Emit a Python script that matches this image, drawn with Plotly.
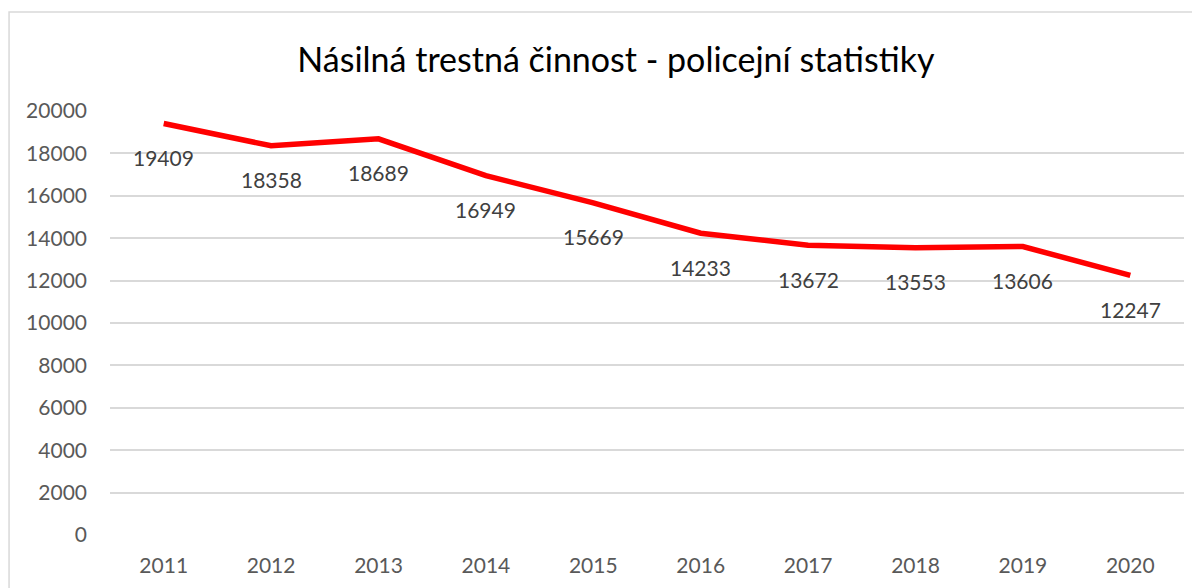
import plotly.graph_objects as go

years = ["2011", "2012", "2013", "2014", "2015", "2016", "2017", "2018", "2019", "2020"]
values = [19409, 18358, 18689, 16949, 15669, 14233, 13672, 13553, 13606, 12247]
y_ticks = [0, 2000, 4000, 6000, 8000, 10000, 12000, 14000, 16000, 18000, 20000]
title_text = "Násilná trestná činnost - policejní statistiky"

FONT = "Lato"

fig = go.Figure()
fig.add_trace(go.Scatter(
    x=years, y=values, mode="lines",
    line=dict(color="#FF0000", width=5.5),
    hoverinfo="x+y", showlegend=False,
))

for i, v in enumerate(values):
    fig.add_annotation(x=i, y=v, text=str(v), showarrow=False, yshift=-34,
                       font=dict(family=FONT, size=21, color="#404040"))

fig.update_layout(
    width=1192, height=580,
    paper_bgcolor="white", plot_bgcolor="white",
    margin=dict(l=102, r=16, t=103, b=53),
    title=dict(text=title_text, x=0.51, xanchor="center", y=0.91, yanchor="middle",
               font=dict(family=FONT, size=34, color="#000000")),
    xaxis=dict(type="category", range=[-0.5, 9.5], showgrid=False, zeroline=False,
               showline=False, ticks="", tickfont=dict(family=FONT, size=21, color="#595959"),
               ticklabelstandoff=16),
    yaxis=dict(range=[0, 20000], tickvals=y_ticks, tickformat="d", showgrid=True,
               gridcolor="#D9D9D9", gridwidth=1.5, zeroline=False, showline=False, ticks="",
               tickfont=dict(family=FONT, size=21, color="#595959"),
               ticklabelstandoff=22),
    shapes=[dict(type="rect", xref="paper", yref="paper",
                 x0=-0.094, x1=1.2, y0=-0.3, y1=1.2335,
                 line=dict(color="#D9D9D9", width=1.5), fillcolor="rgba(0,0,0,0)",
                 layer="below")],
)

fig.write_html("out.html")
